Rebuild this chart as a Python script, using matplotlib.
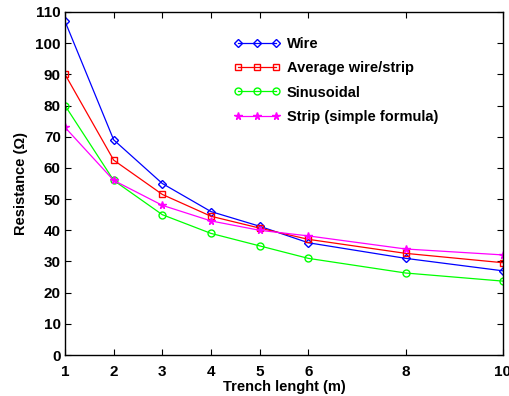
import numpy as np
import matplotlib.pyplot as plt

plt.rcParams['font.family'] = ['Liberation Sans', 'DejaVu Sans']
plt.rcParams['font.weight'] = 'bold'

# Довжина траншеї та опір для кожного методу
trench_len = [1, 2, 3, 4, 5, 6, 8, 10]
wire = [107, 69, 55, 46, 41.3, 36, 31, 27]
avg_wire_strip = [90, 62.5, 51.5, 44.5, 40.7, 37.1, 32.6, 29.6]
sinusoidal = [80, 56, 45, 39, 35, 31, 26.3, 23.7]
strip_simple = [73, 56, 48, 43, 40, 38.2, 34, 32.1]

x_ticks = [1, 2, 3, 4, 5, 6, 8, 10]
y_ticks = np.arange(0, 111, 10)

fig = plt.figure(figsize=(5.1, 3.96), dpi=100)
ax = fig.add_axes([0.1275, 0.1035, 0.8585, 0.8662])

ax.plot(trench_len, wire, color='#0000ff', marker='D', markersize=4.5, fillstyle='none',
        linewidth=0.9, label='Wire')
ax.plot(trench_len, avg_wire_strip, color='#ff0000', marker='s', markersize=4.5, fillstyle='none',
        linewidth=0.9, label='Average wire/strip')
ax.plot(trench_len, sinusoidal, color='#00ff00', marker='o', markersize=5, fillstyle='none',
        linewidth=0.9, label='Sinusoidal')
ax.plot(trench_len, strip_simple, color='#ff00ff', marker='*', markersize=5.5,
        linewidth=0.9, label='Strip (simple formula)')

ax.set_xlim(1, 10)
ax.set_ylim(0, 110)
ax.set_xticks(x_ticks)
ax.set_yticks(y_ticks)
ax.tick_params(direction='in', top=True, right=True, labelsize=11, length=4)
ax.tick_params(axis='x', pad=7)
ax.tick_params(axis='y', pad=3)
for lbl in ax.get_xticklabels() + ax.get_yticklabels():
    lbl.set_fontweight('bold')
for sp in ax.spines.values():
    sp.set_linewidth(1.0)

ax.set_xlabel('Trench lenght (m)', fontsize=10.5, fontweight='bold', labelpad=1)
ax.set_ylabel('Resistance (Ω)', fontsize=10.5, fontweight='bold', labelpad=5)

leg = ax.legend(loc='upper left', bbox_to_anchor=(0.355, 0.965), frameon=False, numpoints=3,
                fontsize=10.5, handlelength=3.2, labelspacing=0.7, handletextpad=0.45)
for t in leg.get_texts():
    t.set_fontweight('bold')

fig.savefig('out.png', dpi=100)
